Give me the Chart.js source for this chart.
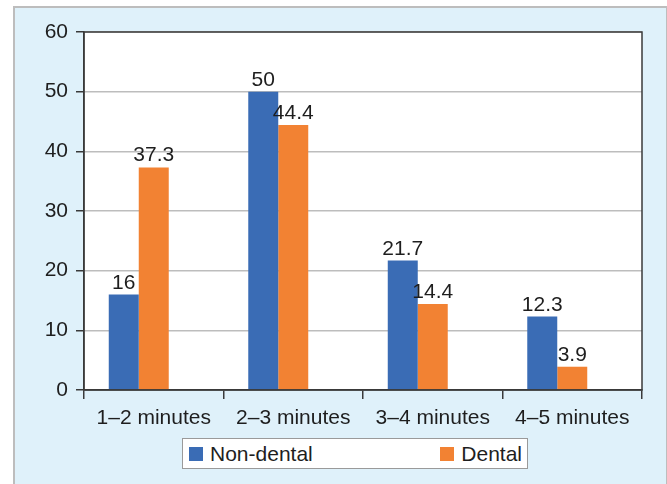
<!DOCTYPE html>
<html>
<head>
<meta charset="utf-8">
<script src="https://cdn.jsdelivr.net/npm/chart.js@4/dist/chart.umd.min.js"></script>
<style>
  html, body { margin: 0; padding: 0; background: #ffffff; }
  body { width: 667px; height: 484px; position: relative; overflow: hidden;
         font-family: "Liberation Sans", Arial, sans-serif; }
  #panel { position: absolute; left: 13px; top: 6px; width: 651px; height: 500px;
           background: #dff1fa; border: 2px solid #bdbdbd; }
  #chart { position: absolute; left: 0; top: 0; }
  #legend { position: absolute; left: 182px; top: 438px; width: 346px; height: 31px;
            box-sizing: border-box;
            background: #ffffff; border: 1px solid #9a9a9a;
            display: flex; justify-content: space-between; align-items: center;
            padding: 0 5px 0 6px; }
  .item { display: flex; align-items: center; font-size: 21px; color: #1e1e1e; }
  .swatch { width: 14px; height: 14px; margin-right: 7px; }
</style>
</head>
<body>
<div id="panel"></div>
<canvas id="chart" width="667" height="484"></canvas>
<div id="legend"></div>
<script>
// Reaction time groups and the share (%) of each group
const categories = ['1\u20132 minutes', '2\u20133 minutes', '3\u20134 minutes', '4\u20135 minutes'];
const nonDental = [16, 50, 21.7, 12.3];
const dental = [37.3, 44.4, 14.4, 3.9];
const yTicks = [0, 10, 20, 30, 40, 50, 60];

const BLUE = '#3a6cb5';
const ORANGE = '#f28233';
const INK = '#1e1e1e';

Chart.defaults.font.family = '"Liberation Sans", Arial, sans-serif';
Chart.defaults.font.size = 21;
Chart.defaults.color = INK;

// White plot area with a dark frame
const plotFrame = {
  id: 'plotFrame',
  beforeDraw(chart) {
    const a = chart.chartArea, ctx = chart.ctx;
    ctx.save();
    ctx.fillStyle = '#ffffff';
    ctx.fillRect(a.left, a.top, a.right - a.left, a.bottom - a.top);
    ctx.restore();
  },
  afterDatasetsDraw(chart) {
    const a = chart.chartArea, ctx = chart.ctx;
    ctx.save();
    ctx.strokeStyle = '#3a3a3a';
    ctx.lineWidth = 1.5;
    ctx.strokeRect(a.left, a.top, a.right - a.left, a.bottom - a.top);
    ctx.restore();
  }
};

// Value written above each bar
const valueLabels = {
  id: 'valueLabels',
  afterDatasetsDraw(chart) {
    const ctx = chart.ctx;
    ctx.save();
    ctx.font = '21px "Liberation Sans", Arial, sans-serif';
    ctx.fillStyle = INK;
    ctx.textAlign = 'center';
    ctx.textBaseline = 'alphabetic';
    chart.data.datasets.forEach((ds, i) => {
      if (!ds.showValues) return;
      chart.getDatasetMeta(i).data.forEach((bar, j) => {
        const v = ds.data[j];
        if (v == null) return;
        ctx.fillText(String(v), bar.x, bar.y - 6);
      });
    });
    ctx.restore();
  }
};

const chart = new Chart(document.getElementById('chart'), {
  type: 'bar',
  data: {
    labels: categories,
    datasets: [
      { label: 'Non-dental', data: nonDental, backgroundColor: BLUE, showValues: true },
      { label: 'Dental', data: dental, backgroundColor: ORANGE, showValues: true },
      // empty slot keeps the pair of bars left of the category centre
      { label: '', data: categories.map(() => null), backgroundColor: 'rgba(0,0,0,0)', spacer: true }
    ]
  },
  options: {
    responsive: false,
    animation: false,
    layout: { padding: { left: 0, top: 32, right: 25, bottom: 0 } },
    datasets: { bar: { categoryPercentage: 0.645, barPercentage: 1.0 } },
    plugins: { legend: { display: false }, tooltip: { enabled: false } },
    scales: {
      x: {
        afterFit(scale) { scale.height = 94; },
        grid: { offset: true, drawOnChartArea: false, drawTicks: true, tickLength: 9,
                color: '#3a3a3a', lineWidth: 1.5 },
        border: { display: true, color: '#3a3a3a', width: 1.5 },
        ticks: { autoSkip: false, maxRotation: 0, minRotation: 0, padding: 7, color: INK }
      },
      y: {
        min: yTicks[0],
        max: yTicks[yTicks.length - 1],
        afterFit(scale) { scale.width = 84; },
        afterBuildTicks(scale) { scale.ticks = yTicks.map(v => ({ value: v })); },
        grid: { color: '#bdbdbd', lineWidth: 1.5, tickLength: 8, tickColor: '#3a3a3a', tickWidth: 1.5 },
        border: { display: true, color: '#3a3a3a', width: 1.5 },
        ticks: { padding: 8, color: INK }
      }
    }
  },
  plugins: [plotFrame, valueLabels]
});

// Legend built from the chart's own datasets
const legend = document.getElementById('legend');
chart.data.datasets.filter(ds => !ds.spacer).forEach(ds => {
  const item = document.createElement('div');
  item.className = 'item';
  const sw = document.createElement('span');
  sw.className = 'swatch';
  sw.style.background = ds.backgroundColor;
  const tx = document.createElement('span');
  tx.textContent = ds.label;
  item.appendChild(sw);
  item.appendChild(tx);
  legend.appendChild(item);
});
</script>
</body>
</html>
